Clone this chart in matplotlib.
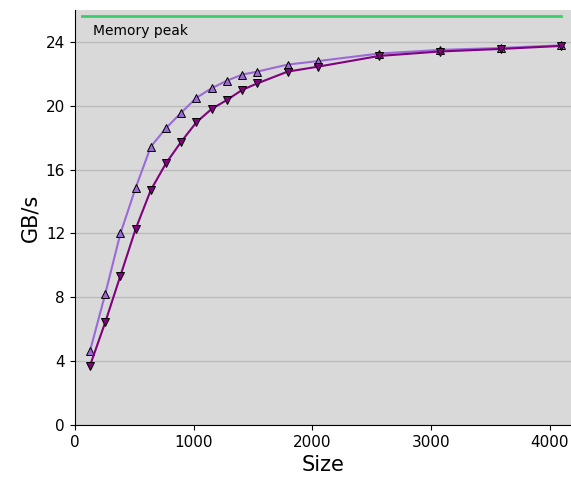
import matplotlib
matplotlib.use("Agg")
import matplotlib.pyplot as plt

sizes = [128, 256, 384, 512, 640, 768, 896, 1024, 1152, 1280, 1408, 1536,
         1792, 2048, 2560, 3072, 3584, 4096]
series_up = [4.64, 8.2, 12.0, 14.85, 17.44, 18.6, 19.57, 20.5, 21.1, 21.57,
             21.95, 22.14, 22.58, 22.8, 23.27, 23.5, 23.62, 23.79]
series_down = [3.72, 6.43, 9.35, 12.28, 14.72, 16.4, 17.75, 18.97, 19.8,
               20.36, 20.99, 21.4, 22.14, 22.45, 23.12, 23.4, 23.56, 23.75]
peak_x = [64, 4096]
peak_y = [25.6, 25.6]
peak_label = "Memory peak"
yticks = [0, 4, 8, 12, 16, 20, 24]
xticks = [0, 1000, 2000, 3000, 4000]

fig = plt.figure(figsize=(5.71, 4.83), dpi=100)
ax = fig.add_axes([74.8 / 571, 58 / 483, (571 - 74.8) / 571, 415 / 483])
ax.set_facecolor("#d9d9d9")
ax.set_xlim(0, 4177)
ax.set_ylim(0, 26)
ax.set_yticks(yticks)
ax.set_xticks(xticks)
ax.grid(axis="y", color="#bcbcbc", linewidth=1.0)
ax.set_axisbelow(True)
for s in ["top", "right"]:
    ax.spines[s].set_visible(False)

ax.plot(peak_x, peak_y, color="#3dcc6a", linewidth=2)
ax.text(150, 24.7, peak_label, fontsize=10, va="center", ha="left")

ax.plot(sizes, series_up, color="#9b6ad6", linewidth=1.5, marker="^",
        markersize=6, markerfacecolor="#9b6ad6", markeredgecolor="black",
        markeredgewidth=0.7)
ax.plot(sizes, series_down, color="#800080", linewidth=1.5, marker="v",
        markersize=6, markerfacecolor="#800080", markeredgecolor="black",
        markeredgewidth=0.7)

ax.tick_params(labelsize=11)
ax.set_xlabel("Size", fontsize=15)
ax.set_ylabel("GB/s", fontsize=15)
fig.savefig("out.png", dpi=100)
